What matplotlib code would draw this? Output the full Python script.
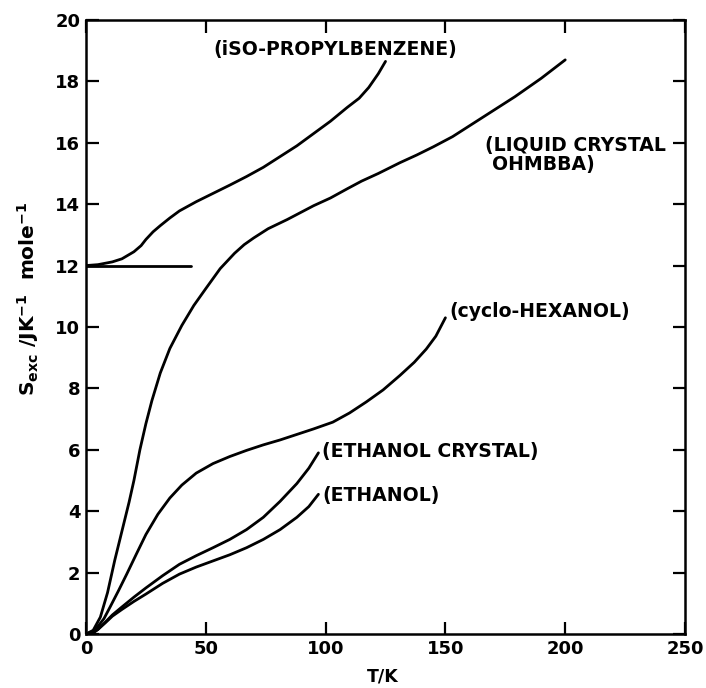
import numpy as np
import matplotlib
matplotlib.use("Agg")
import matplotlib.pyplot as plt

plt.rcParams['font.family'] = ['DejaVu Sans']
plt.rcParams['font.weight'] = 'bold'
plt.rcParams['mathtext.fontset'] = 'custom'
plt.rcParams['mathtext.rm'] = 'DejaVu Sans:bold'
plt.rcParams['mathtext.it'] = 'DejaVu Sans:bold'
plt.rcParams['mathtext.bf'] = 'DejaVu Sans:bold'

# values (T in K, S in J/K/mole)
iso_T = [0, 5, 11, 15, 20, 23, 25, 28, 31, 35, 39, 46, 53, 60, 67, 74, 81, 88, 95, 102, 109, 114, 118, 122, 125]
iso_S = [12.0, 12.03, 12.12, 12.22, 12.45, 12.65, 12.85, 13.1, 13.3, 13.55, 13.78, 14.08, 14.35, 14.62, 14.9,
         15.2, 15.55, 15.9, 16.3, 16.7, 17.15, 17.45, 17.8, 18.25, 18.65]

# horizontal reference at 12
flat_T = [0, 44]
flat_S = [12.0, 12.0]

lc_T = [0, 3, 6, 9, 12, 15, 18, 20, 22.5, 25, 27.5, 31, 35, 40, 45, 50, 56, 62, 66, 70, 76, 84, 95, 102,
        109, 115, 122, 131, 138, 145, 153, 161, 170, 179, 190, 200]
lc_S = [0, 0.12, 0.55, 1.35, 2.4, 3.35, 4.3, 5.0, 6.0, 6.85, 7.6, 8.5, 9.3, 10.05, 10.7, 11.25, 11.9, 12.4,
        12.68, 12.9, 13.2, 13.5, 13.95, 14.2, 14.5, 14.75, 15.0, 15.35, 15.6, 15.87, 16.2, 16.6, 17.05,
        17.5, 18.1, 18.7]

cyc_T = [0, 3, 5, 7.5, 10, 13.5, 17, 21, 25, 30, 35, 40, 46, 53, 60, 67, 74, 81, 88, 95, 103, 110,
         117, 124, 131, 137, 142, 146, 150]
cyc_S = [0, 0.08, 0.25, 0.5, 0.87, 1.4, 1.95, 2.6, 3.24, 3.9, 4.43, 4.85, 5.24, 5.55, 5.78, 5.98, 6.16,
         6.32, 6.5, 6.68, 6.9, 7.2, 7.56, 7.95, 8.42, 8.85, 9.28, 9.7, 10.3]

etc_T = [0, 3, 5, 8, 11, 15, 20, 25, 32, 39, 46, 53, 60, 67, 74, 81, 88, 93, 97]
etc_S = [0, 0.04, 0.15, 0.38, 0.62, 0.88, 1.2, 1.5, 1.9, 2.27, 2.55, 2.81, 3.08, 3.4, 3.8, 4.32, 4.9,
         5.4, 5.9]

eth_T = [0, 3, 5, 8, 11, 15, 20, 25, 32, 39, 46, 53, 60, 67, 74, 81, 88, 93, 97]
eth_S = [0, 0.04, 0.15, 0.36, 0.58, 0.8, 1.06, 1.3, 1.65, 1.95, 2.18, 2.38, 2.58, 2.81, 3.08, 3.4, 3.8,
         4.15, 4.55]

fig = plt.figure(figsize=(7.06, 6.88), dpi=100)
ax = fig.add_axes([0.1218, 0.0785, 0.8485, 0.8925])

lw = 2.0
for T, S in [(iso_T, iso_S), (flat_T, flat_S), (lc_T, lc_S),
             (cyc_T, cyc_S), (etc_T, etc_S), (eth_T, eth_S)]:
    ax.plot(T, S, color='black', lw=lw, solid_joinstyle='round', solid_capstyle='round')

txt = dict(fontsize=13.6, fontweight='bold', va='center', ha='left')
ax.text(53, 19.05, '(iSO-PROPYLBENZENE)', **txt)
ax.text(166.5, 15.9, '(LIQUID CRYSTAL', **txt)
ax.text(169.5, 15.3, 'OHMBBA)', **txt)
ax.text(151.5, 10.5, '(cyclo-HEXANOL)', **txt)
ax.text(98.5, 5.95, '(ETHANOL CRYSTAL)', **txt)
ax.text(98.5, 4.5, '(ETHANOL)', **txt)

ax.set_xlim(0, 250)
ax.set_ylim(0, 20)
ax.set_xticks([0, 50, 100, 150, 200, 250])
ax.set_yticks(np.arange(0, 21, 2))
ax.tick_params(direction='in', length=9, width=1.6, top=True, right=True,
               labelsize=13, pad=4)
for s in ax.spines.values():
    s.set_linewidth(1.8)

ax.set_xlabel('T/K', fontsize=12.5, fontweight='bold')
ax.xaxis.set_label_coords(0.496, -0.055)
ax.set_ylabel(r'S$_{\rm exc}$ /JK$^{-1}$  mole$^{-1}$', fontsize=14.5, fontweight='bold')
ax.yaxis.set_label_coords(-0.075, 0.545)

fig.savefig('out.png', dpi=100)
